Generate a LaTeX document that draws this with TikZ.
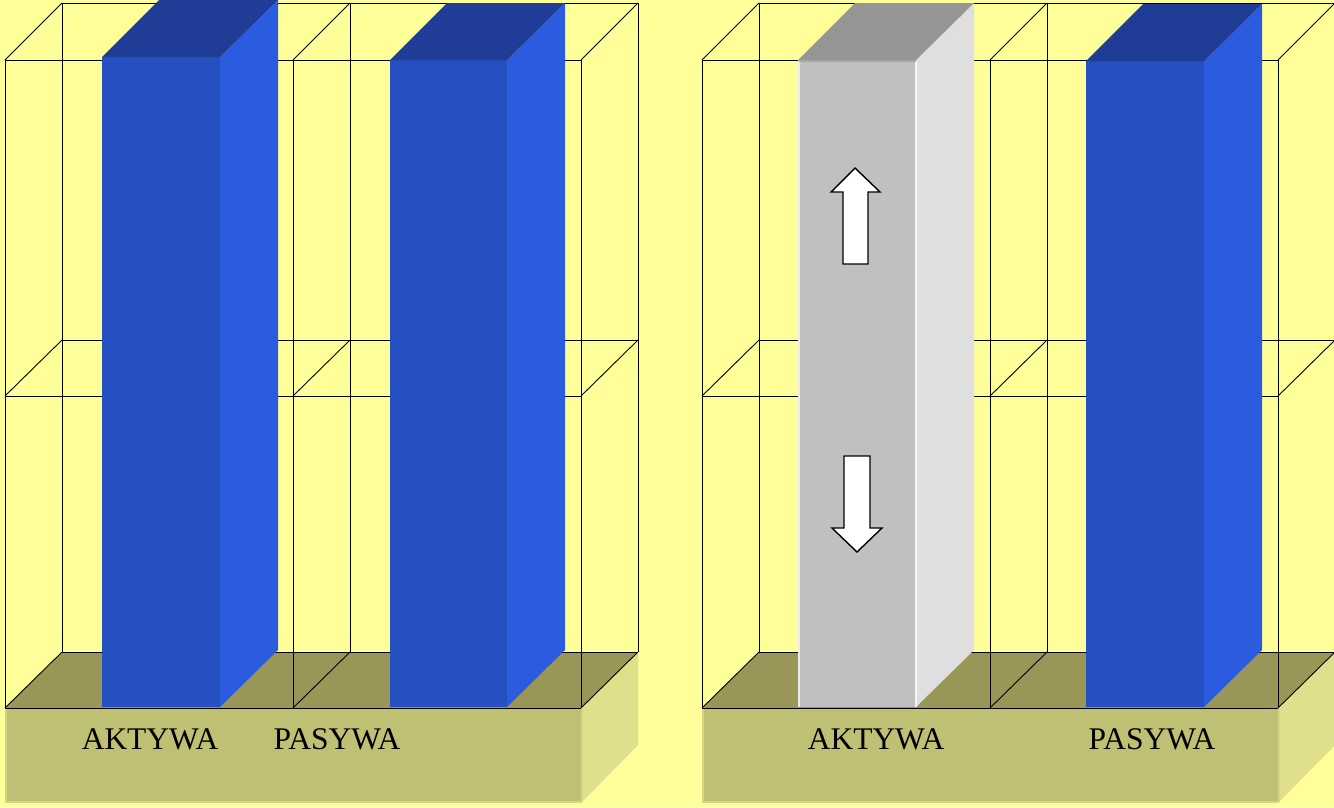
\documentclass[tikz,border=0pt]{standalone}
\usepackage{fontspec}
\setmainfont{Liberation Serif}
\definecolor{bg}{RGB}{255,255,153}
\definecolor{floorc}{RGB}{153,150,88}
\definecolor{basefront}{RGB}{192,192,116}
\definecolor{baseside}{RGB}{224,223,140}
\definecolor{baseedge}{RGB}{214,212,130}
\definecolor{bluefront}{RGB}{38,80,192}
\definecolor{blueside}{RGB}{43,91,222}
\definecolor{bluetop}{RGB}{31,60,150}
\definecolor{grayfront}{RGB}{192,192,192}
\definecolor{grayside}{RGB}{223,223,223}
\definecolor{graytop}{RGB}{150,150,150}
\newcommand\drawbar[7]{%
  \fill[#5] (#1,#4) rectangle (#2,707);
  \fill[#6] (#2,#4) -- (#3,#4-57) -- (#3,650) -- (#2,707) -- cycle;
  \fill[#7] (#1,#4) -- (#1+57,#4-57) -- (#3,#4-57) -- (#2,#4) -- cycle;
}
\begin{document}
\begin{tikzpicture}[x=1pt,y=-1pt,
  gridline/.style={draw=black,line width=0.9pt},
  label/.style={font=\fontsize{31.5}{32}\selectfont,anchor=base,inner sep=0pt},
  bigarrow/.style={draw=black,fill=white,line width=1.4pt,line join=miter}]
\fill[bg] (0,0) rectangle (1334,807);
\useasboundingbox (0,0) rectangle (1334,807);
\foreach \ox in {0,697}{
  \begin{scope}[xshift=\ox pt]
    \fill[basefront] (5,708) rectangle (581,803);
    \draw[baseedge,line width=1.5pt] (6,709) -- (6,802) -- (581,802);
    \fill[baseside] (581,708) -- (638,652) -- (638,745) -- (581,803) -- cycle;
    \draw[baseedge,line width=1.5pt] (582,709) -- (582,802);
    \fill[floorc] (5,708) -- (581,708) -- (638,652) -- (62,652) -- cycle;
    \draw[gridline] (5,60) -- (581,60);
    \draw[gridline] (62,3) -- (638,3);
    \draw[gridline] (5,396) -- (581,396);
    \draw[gridline] (62,340) -- (638,340);
    \draw[gridline] (5,708) -- (581,708);
    \draw[gridline] (62,652) -- (638,652);
    \foreach \vx in {5,293,581}{
      \draw[gridline] (\vx,60) -- (\vx,708);
      \draw[gridline] (\vx+57,3) -- (\vx+57,652);
      \draw[gridline] (\vx,60) -- (\vx+57,3);
      \draw[gridline] (\vx,396) -- (\vx+57,340);
      \draw[gridline] (\vx,708) -- (\vx+57,652);
    }
  \end{scope}
}
\drawbar{102}{220}{278}{57}{bluefront}{blueside}{bluetop}
\drawbar{390}{507}{565}{60}{bluefront}{blueside}{bluetop}
\drawbar{798}{916}{974}{60}{grayfront}{grayside}{graytop}
\drawbar{1086}{1204}{1262}{61}{bluefront}{blueside}{bluetop}
\draw[white!85!gray,line width=1.5pt] (799,61) -- (799,707);
\draw[white!92!gray,line width=2pt] (916,61) -- (916,707);
\draw[gray!70!white,line width=1.2pt] (799,61) -- (916,61);
\draw[bigarrow] (855,168) -- (880,192) -- (868,192) -- (868,264) -- (843,264) -- (843,192) -- (831,192) -- cycle;
\draw[bigarrow] (844,456) -- (870,456) -- (870,528) -- (882,528) -- (857,552) -- (832,528) -- (844,528) -- cycle;
\node[label] (akt1) at (150,749) {AKTYWA};
\node[label] (pas1) at (337,749) {PASYWA};
\node[label] (akt2) at (876,749) {AKTYWA};
\node[label] (pas2) at (1152,749) {PASYWA};
\end{tikzpicture}
\end{document}
